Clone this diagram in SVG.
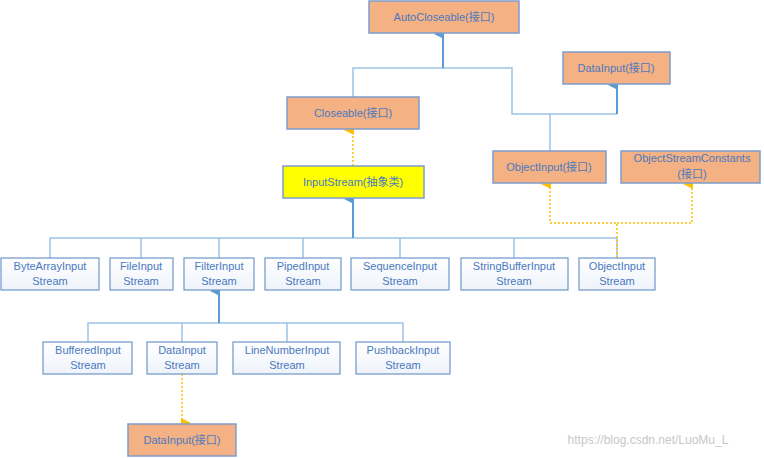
<svg xmlns="http://www.w3.org/2000/svg" width="764" height="458" viewBox="0 0 764 458">
<style>
text{font-family:"Liberation Sans","Noto Sans CJK SC",sans-serif;font-size:11px;fill:#4a79c0;text-anchor:middle}
.o{fill:#f4b183;stroke:#7f9ccc;stroke-width:1.5}
.y{fill:#ffff00;stroke:#7f9ccc;stroke-width:1.5}
.w{fill:url(#g);stroke:#6f97cc;stroke-width:1.2}
.l{fill:none;stroke:#9dc3e6;stroke-width:1.5}
.a{fill:none;stroke:#5b9bd5;stroke-width:2}
.d{fill:none;stroke:#ffc000;stroke-width:1.5;stroke-dasharray:2 2}
</style>
<defs>
<linearGradient id="g" x1="0" y1="0" x2="0" y2="1"><stop offset="0" stop-color="#ffffff"/><stop offset="1" stop-color="#eef3fa"/></linearGradient>
<marker id="ab" markerWidth="10" markerHeight="10" refX="5" refY="9" orient="auto-start-reverse" markerUnits="userSpaceOnUse" viewBox="0 0 10 10"><path d="M0,10 L5,0 L10,10z" fill="#5b9bd5"/></marker>
<marker id="ay" markerWidth="10" markerHeight="10" refX="5" refY="9" orient="auto-start-reverse" markerUnits="userSpaceOnUse" viewBox="0 0 10 10"><path d="M0,10 L5,0 L10,10z" fill="#ffc000"/></marker>
</defs>
<g id="connectors">
<path class="l" d="M353,97 V68 H512 V114 H617"/>
<path class="a" d="M443,68 V34" marker-end="url(#ab)"/>
<path class="a" d="M617,114 V85" marker-end="url(#ab)"/>
<path class="l" d="M550,151 V114"/>
<path class="d" d="M353,166 V130" marker-end="url(#ay)"/>
<path class="l" d="M50,258 V238 H617 V258 M141,238 V258 M219,238 V258 M303,238 V258 M400,238 V258 M514,238 V258"/>
<path class="a" d="M353,238 V199" marker-end="url(#ab)"/>
<path class="d" d="M617,258 V223 H550 V184" marker-end="url(#ay)"/>
<path class="d" d="M617,223 H692 V184" marker-end="url(#ay)"/>
<path class="l" d="M88,342 V323 H403 V342 M182,323 V342 M287,323 V342"/>
<path class="a" d="M219,323 V291" marker-end="url(#ab)"/>
<path class="d" d="M182,374 V423" marker-end="url(#ay)"/>
</g>
<g id="AutoCloseable"><rect class="o" x="369" y="1" width="150" height="32"/><text x="444" y="21">AutoCloseable(接口)</text></g>
<g id="DataInputTop"><rect class="o" x="563" y="52" width="107" height="32"/><text x="616" y="72">DataInput(接口)</text></g>
<g id="Closeable"><rect class="o" x="287" y="97" width="132" height="32"/><text x="353" y="117">Closeable(接口)</text></g>
<g id="InputStream"><rect class="y" x="283" y="166" width="141" height="32"/><text x="353" y="186">InputStream(抽象类)</text></g>
<g id="ObjectInput"><rect class="o" x="493" y="151" width="113" height="32"/><text x="549" y="171">ObjectInput(接口)</text></g>
<g id="ObjectStreamConstants"><rect class="o" x="621" y="151" width="139" height="32"/><text x="692" y="162">ObjectStreamConstants</text><text x="692" y="178">(接口)</text></g>
<g id="ByteArrayInputStream"><rect class="w" x="1" y="258" width="98" height="32"/><text x="50" y="270">ByteArrayInput</text><text x="50" y="285">Stream</text></g>
<g id="FileInputStream"><rect class="w" x="110" y="258" width="63" height="32"/><text x="141" y="270">FileInput</text><text x="141" y="285">Stream</text></g>
<g id="FilterInputStream"><rect class="w" x="184" y="258" width="70" height="32"/><text x="219" y="270">FilterInput</text><text x="219" y="285">Stream</text></g>
<g id="PipedInputStream"><rect class="w" x="265" y="258" width="76" height="32"/><text x="303" y="270">PipedInput</text><text x="303" y="285">Stream</text></g>
<g id="SequenceInputStream"><rect class="w" x="351" y="258" width="98" height="32"/><text x="400" y="270">SequenceInput</text><text x="400" y="285">Stream</text></g>
<g id="StringBufferInputStream"><rect class="w" x="461" y="258" width="107" height="32"/><text x="514" y="270">StringBufferInput</text><text x="514" y="285">Stream</text></g>
<g id="ObjectInputStream"><rect class="w" x="579" y="258" width="76" height="32"/><text x="617" y="270">ObjectInput</text><text x="617" y="285">Stream</text></g>
<g id="BufferedInputStream"><rect class="w" x="43" y="342" width="89" height="32"/><text x="88" y="354">BufferedInput</text><text x="88" y="369">Stream</text></g>
<g id="DataInputStream"><rect class="w" x="147" y="342" width="70" height="32"/><text x="182" y="354">DataInput</text><text x="182" y="369">Stream</text></g>
<g id="LineNumberInputStream"><rect class="w" x="233" y="342" width="107" height="32"/><text x="287" y="354">LineNumberInput</text><text x="287" y="369">Stream</text></g>
<g id="PushbackInputStream"><rect class="w" x="356" y="342" width="94" height="32"/><text x="403" y="354">PushbackInput</text><text x="403" y="369">Stream</text></g>
<g id="DataInputBottom"><rect class="o" x="128" y="424" width="108" height="32"/><text x="182" y="444">DataInput(接口)</text></g>
<text x="648" y="444" style="fill:#c8c8c8;font-size:12px">https://blog.csdn.net/LuoMu_L</text>
</svg>
